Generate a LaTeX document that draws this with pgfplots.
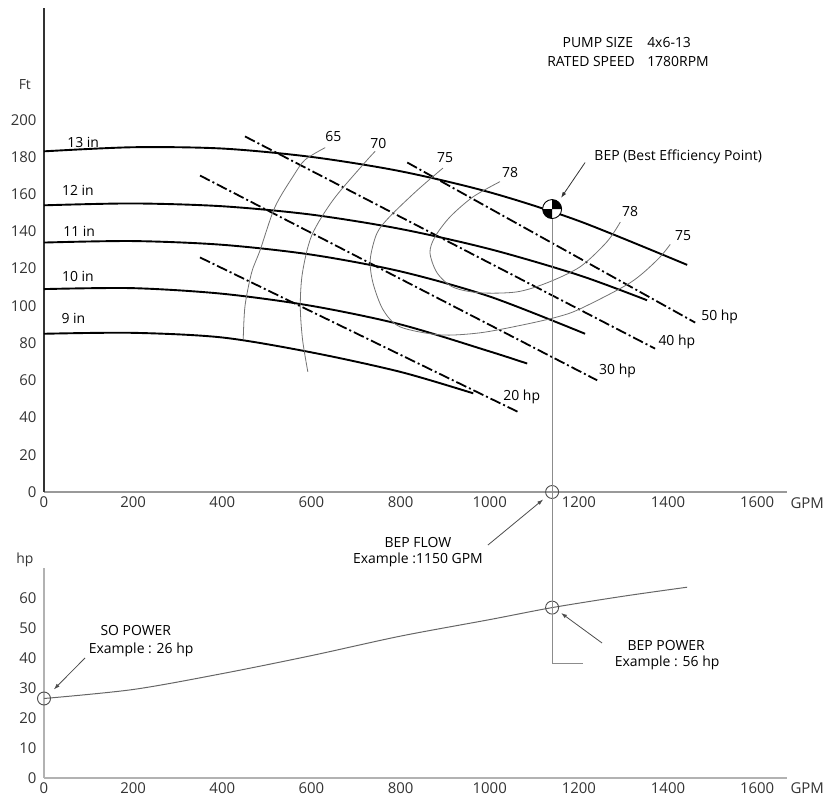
\documentclass[border=0pt]{standalone}
\usepackage{fontspec}
\setmainfont{Open Sans}
\usepackage{pgfplots}
\pgfplotsset{compat=1.18}
\usetikzlibrary{arrows.meta}

\pgfdeclareplotmark{bep}{%
  \pgfpathcircle{\pgfpointorigin}{\pgfplotmarksize}\pgfusepathqfillstroke
  \pgfsetfillcolor{black}%
  \pgfpathmoveto{\pgfpointorigin}\pgfpathlineto{\pgfqpoint{\pgfplotmarksize}{0pt}}\pgfpatharc{0}{90}{\pgfplotmarksize}\pgfpathclose
  \pgfpathmoveto{\pgfpointorigin}\pgfpathlineto{\pgfqpoint{-\pgfplotmarksize}{0pt}}\pgfpatharc{180}{270}{\pgfplotmarksize}\pgfpathclose
  \pgfusepathqfill
}

\newcommand{\tf}{\fontsize{14}{16}\selectfont}

\begin{document}
\begin{tikzpicture}
\useasboundingbox (0,0) rectangle (825bp,800bp);
\pgfplotsset{
  pumpaxis/.style={
    scale only axis, width=743bp, xmin=0, xmax=1667,
    axis x line=bottom, axis y line=left, axis line style={-},
    major tick length=0pt, tick style={draw=none},
    xtick={0,200,...,1600},
    clip=false,
    ticklabel style={font=\fontsize{15}{15}\selectfont, text=black!80},
    xticklabel style={yshift=-1bp},
    yticklabel style={xshift=-4bp},
    /pgf/number format/assume math mode=true,
    /pgf/number format/1000 sep={},
  },
  head/.style={black, line width=1.9bp, smooth},
  power/.style={black, line width=1.8bp, dash pattern=on 11bp off 3bp on 2bp off 3bp},
  eff/.style={black!55, line width=0.8bp, smooth},
}
% ---------------- Head chart ----------------
\begin{axis}[pumpaxis, at={(44bp,308bp)}, anchor=south west,
  height=484bp, ymin=0, ymax=260, ytick={0,20,...,200},
  x axis line style={black!40, line width=2.5bp},
  y axis line style={black!80, line width=2bp}]
% impeller head curves (13, 12, 11, 10, 9 in)
\addplot[head] coordinates {(0,183)(200,185.2)(400,184.5)(600,180)(800,172.3)(1000,161)(1200,145.6)(1443,122)};
\addplot[head] coordinates {(0,154)(200,155)(400,153.5)(600,149)(800,141.3)(1000,130.5)(1200,116.5)(1353,103)};
\addplot[head] coordinates {(0,134)(200,134.8)(400,132.8)(600,127.5)(800,118.5)(1000,105)(1214,85)};
\addplot[head] coordinates {(0,109)(200,109.5)(400,106.5)(600,100)(800,90)(1000,75.5)(1084,69)};
\addplot[head] coordinates {(0,85)(200,85.5)(400,83)(600,75)(800,64.5)(963,53)};
% power lines
\addplot[power] coordinates {(815,177)(1461,91)};
\addplot[power] coordinates {(451,191)(1371,77)};
\addplot[power] coordinates {(350,170)(1241,60)};
\addplot[power] coordinates {(350,126)(1068,42.5)};
% efficiency curves
\addplot[eff] coordinates {(447,82)(451,100)(466,118)(485,130)(518,153)(560,170)(586,178.5)(631,185)};
\addplot[eff] coordinates {(592,64.5)(580,82)(575,100)(580,118)(601,138)(649,157)(720,177)(743,183)};
\addplot[eff] coordinates {(895,174)(837,162)(776,148)(747,139)(732,125)(738,112.4)(761,97.8)(799,88.7)(889,84.4)(978,85.5)(1075,89.8)(1151,94)(1203,98.4)(1315,112.4)(1376,124.7)(1405,133)};
\addplot[eff] coordinates {(1023,166.7)(963,158.6)(911,147.8)(877,137)(866,128.5)(882,117.7)(918,110)(978,107)(1061,107.5)(1129,112.4)(1203,121)(1263,134.4)(1293,145)};
% BEP flow marker on axis
\addplot[only marks, mark=o, mark size=6.5bp, mark options={black!70, line width=0.9bp}] coordinates {(1140,0)};
% BEP point
\addplot[only marks, mark=bep, mark size=9.5bp, mark options={draw=black, fill=white, line width=0.9bp}] coordinates {(1140,152)};
\coordinate (bepTop) at (axis cs:1140,146.5);
% labels
\node[font=\tf] at (axis cs:88,188) {13 in};
\node[font=\tf] at (axis cs:76,162) {12 in};
\node[font=\tf] at (axis cs:79,140) {11 in};
\node[font=\tf] at (axis cs:76,115.6) {10 in};
\node[font=\tf] at (axis cs:66,93) {9 in};
\node[font=\tf] at (axis cs:649,191) {65};
\node[font=\tf] at (axis cs:750,187) {70};
\node[font=\tf] at (axis cs:900,179.6) {75};
\node[font=\tf] at (axis cs:1046,171.5) {78};
\node[font=\tf] at (axis cs:1315,150.5) {78};
\node[font=\tf] at (axis cs:1434,138) {75};
\node[font=\tf, anchor=west, inner sep=1bp] at (axis cs:1472,94) {50 hp};
\node[font=\tf, anchor=west, inner sep=1bp] at (axis cs:1376,80.6) {40 hp};
\node[font=\tf, anchor=west, inner sep=1bp] at (axis cs:1243,65) {30 hp};
\node[font=\tf, anchor=west, inner sep=1bp] at (axis cs:1028,51) {20 hp};
\node[font=\tf] at (axis cs:1423,180) {BEP (Best Efficiency Point)};
\draw[black!80, line width=0.8bp, -{Latex[length=6bp,width=4bp]}] (axis cs:1214,177) -- (axis cs:1160,158);
\node[font=\tf, anchor=east, inner sep=0pt] at (axis cs:1322,241.4) {PUMP SIZE};
\node[font=\tf, anchor=west, inner sep=0pt] at (axis cs:1353,241.4) {4x6-13};
\node[font=\tf, anchor=east, inner sep=0pt] at (axis cs:1326,231) {RATED SPEED};
\node[font=\tf, anchor=west, inner sep=0pt] at (axis cs:1353,231) {1780RPM};
\node[font=\tf, text=black!80] at (axis cs:-43,219) {Ft};
\node[font=\fontsize{15}{15}\selectfont, text=black!80, anchor=west] at ([yshift=-11bp]axis cs:1667,0) {GPM};
\node[font=\tf] at (axis cs:839,-26.9) {BEP FLOW};
\node[font=\tf] at (axis cs:839,-36.6) {Example :1150 GPM};
\draw[black!70, line width=0.8bp, -{Latex[length=6bp,width=4bp]}] (axis cs:996,-28.5) -- (axis cs:1120,-4);
\end{axis}
% ---------------- Power chart ----------------
\begin{axis}[pumpaxis, at={(44bp,22bp)}, anchor=south west,
  height=210bp, ymin=0, ymax=70, ytick={0,10,...,60},
  axis line style={black!30, line width=2.5bp}]
\addplot[black!60, line width=1bp, smooth] coordinates {(0,26.5)(200,29.5)(400,34.8)(600,40.8)(800,47.3)(1000,52.8)(1140,56.8)(1300,60.6)(1443,63.6)};
\addplot[only marks, mark=o, mark size=6.5bp, mark options={black!70, line width=0.9bp}] coordinates {(0,26.5)(1140,56.8)};
\coordinate (bepBot) at (axis cs:1140,38.3);
\coordinate (bepEnd) at (axis cs:1210,38.3);
\node[font=\tf] at (axis cs:206,49) {SO POWER};
\node[font=\tf] at (axis cs:218,42.7) {Example : 26 hp};
\draw[black!70, line width=0.8bp, -{Latex[length=6bp,width=4bp]}] (axis cs:92,40) -- (axis cs:22,29.5);
\node[font=\tf] at (axis cs:1396,44.3) {BEP POWER};
\node[font=\tf] at (axis cs:1398,38.3) {Example : 56 hp};
\draw[black!70, line width=0.8bp, -{Latex[length=6bp,width=4bp]}] (axis cs:1252,45) -- (axis cs:1160,55);
\node[font=\tf, text=black!80] at (axis cs:-43,72.7) {hp};
\node[font=\fontsize{15}{15}\selectfont, text=black!80, anchor=west] at ([yshift=-10bp]axis cs:1667,0) {GPM};
\end{axis}
\draw[black!45, line width=0.8bp] (bepTop) -- (bepBot) -- (bepEnd);
\end{tikzpicture}
\end{document}
